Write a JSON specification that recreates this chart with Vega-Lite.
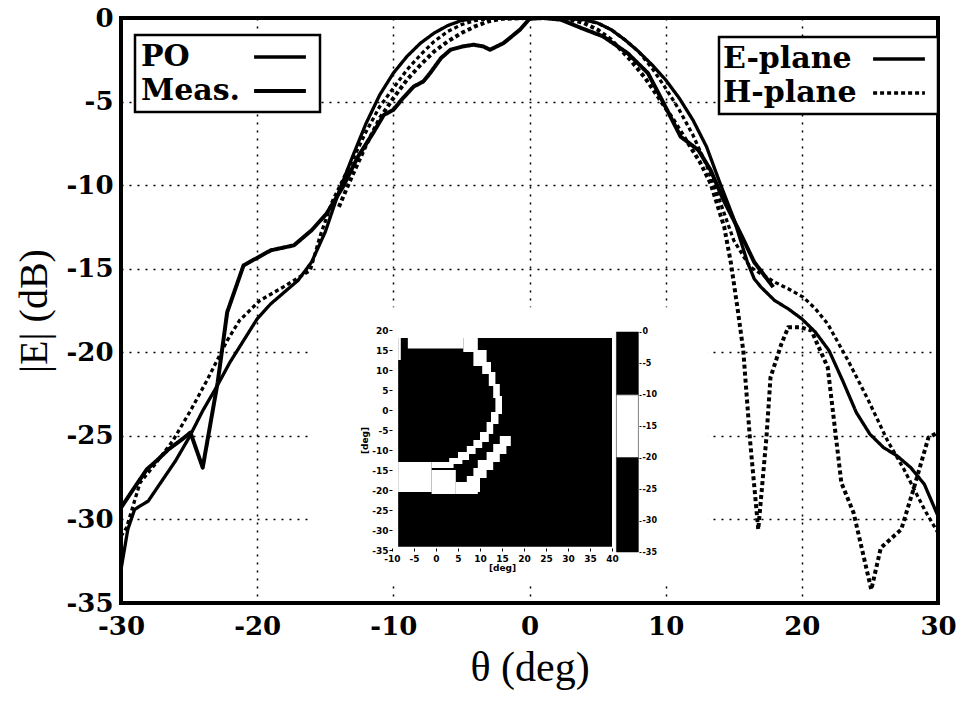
{
  "$schema": "https://vega.github.io/schema/vega-lite/v6.json",
  "width": 817,
  "height": 585,
  "autosize": {"type": "none"},
  "padding": {"left": 121, "top": 18, "right": 31, "bottom": 102},
  "background": "white",
  "config": {
    "view": {"stroke": "black", "strokeWidth": 4},
    "axis": {"grid": false, "labelColor": "black", "titleColor": "black", "tickColor": "black", "domainColor": "black", "labelExpr": "'' + datum.value"},
    "legend": {"strokeWidth": 2.5}
  },
  "datasets": {
    "bg": [{"x1": -15.9, "x2": 13.1, "y1": -17.3, "y2": -33.8}],
    "curves": [
      {"t": -30, "d": -33.0, "s": "PO", "p": "E-plane"},
      {"t": -29.5, "d": -30.6, "s": "PO", "p": "E-plane"},
      {"t": -29, "d": -29.4, "s": "PO", "p": "E-plane"},
      {"t": -28, "d": -28.9, "s": "PO", "p": "E-plane"},
      {"t": -27, "d": -27.7, "s": "PO", "p": "E-plane"},
      {"t": -26, "d": -26.5, "s": "PO", "p": "E-plane"},
      {"t": -25, "d": -25.1, "s": "PO", "p": "E-plane"},
      {"t": -24, "d": -23.5, "s": "PO", "p": "E-plane"},
      {"t": -23, "d": -22.1, "s": "PO", "p": "E-plane"},
      {"t": -22, "d": -20.6, "s": "PO", "p": "E-plane"},
      {"t": -21, "d": -19.3, "s": "PO", "p": "E-plane"},
      {"t": -20, "d": -18.0, "s": "PO", "p": "E-plane"},
      {"t": -19, "d": -17.1, "s": "PO", "p": "E-plane"},
      {"t": -18, "d": -16.4, "s": "PO", "p": "E-plane"},
      {"t": -17, "d": -15.7, "s": "PO", "p": "E-plane"},
      {"t": -16, "d": -14.6, "s": "PO", "p": "E-plane"},
      {"t": -15, "d": -12.8, "s": "PO", "p": "E-plane"},
      {"t": -14, "d": -10.4, "s": "PO", "p": "E-plane"},
      {"t": -13, "d": -8.3, "s": "PO", "p": "E-plane"},
      {"t": -12, "d": -6.3, "s": "PO", "p": "E-plane"},
      {"t": -11, "d": -4.6, "s": "PO", "p": "E-plane"},
      {"t": -10, "d": -3.3, "s": "PO", "p": "E-plane"},
      {"t": -9, "d": -2.3, "s": "PO", "p": "E-plane"},
      {"t": -8, "d": -1.5, "s": "PO", "p": "E-plane"},
      {"t": -7, "d": -0.9, "s": "PO", "p": "E-plane"},
      {"t": -6, "d": -0.45, "s": "PO", "p": "E-plane"},
      {"t": -5, "d": -0.15, "s": "PO", "p": "E-plane"},
      {"t": -4, "d": -0.03, "s": "PO", "p": "E-plane"},
      {"t": -2, "d": 0, "s": "PO", "p": "E-plane"},
      {"t": 0, "d": 0, "s": "PO", "p": "E-plane"},
      {"t": 2, "d": 0, "s": "PO", "p": "E-plane"},
      {"t": 4, "d": -0.1, "s": "PO", "p": "E-plane"},
      {"t": 5, "d": -0.3, "s": "PO", "p": "E-plane"},
      {"t": 6, "d": -0.7, "s": "PO", "p": "E-plane"},
      {"t": 7, "d": -1.3, "s": "PO", "p": "E-plane"},
      {"t": 8, "d": -2.0, "s": "PO", "p": "E-plane"},
      {"t": 9, "d": -2.8, "s": "PO", "p": "E-plane"},
      {"t": 10, "d": -3.7, "s": "PO", "p": "E-plane"},
      {"t": 11, "d": -4.8, "s": "PO", "p": "E-plane"},
      {"t": 12, "d": -6.1, "s": "PO", "p": "E-plane"},
      {"t": 13, "d": -7.7, "s": "PO", "p": "E-plane"},
      {"t": 14, "d": -9.9, "s": "PO", "p": "E-plane"},
      {"t": 15, "d": -12.0, "s": "PO", "p": "E-plane"},
      {"t": 16, "d": -14.6, "s": "PO", "p": "E-plane"},
      {"t": 16.5, "d": -15.6, "s": "PO", "p": "E-plane"},
      {"t": 17, "d": -16.1, "s": "PO", "p": "E-plane"},
      {"t": 18, "d": -16.9, "s": "PO", "p": "E-plane"},
      {"t": 19, "d": -17.4, "s": "PO", "p": "E-plane"},
      {"t": 20, "d": -18.0, "s": "PO", "p": "E-plane"},
      {"t": 21, "d": -18.8, "s": "PO", "p": "E-plane"},
      {"t": 22, "d": -19.9, "s": "PO", "p": "E-plane"},
      {"t": 23, "d": -21.7, "s": "PO", "p": "E-plane"},
      {"t": 24, "d": -23.6, "s": "PO", "p": "E-plane"},
      {"t": 25, "d": -24.9, "s": "PO", "p": "E-plane"},
      {"t": 26, "d": -25.7, "s": "PO", "p": "E-plane"},
      {"t": 27, "d": -26.2, "s": "PO", "p": "E-plane"},
      {"t": 28, "d": -26.9, "s": "PO", "p": "E-plane"},
      {"t": 29, "d": -27.9, "s": "PO", "p": "E-plane"},
      {"t": 30, "d": -29.8, "s": "PO", "p": "E-plane"},

      {"t": -30, "d": -29.3, "s": "Meas.", "p": "E-plane"},
      {"t": -29.1, "d": -28.2, "s": "Meas.", "p": "E-plane"},
      {"t": -28.1, "d": -27.0, "s": "Meas.", "p": "E-plane"},
      {"t": -27.4, "d": -26.5, "s": "Meas.", "p": "E-plane"},
      {"t": -26.5, "d": -25.8, "s": "Meas.", "p": "E-plane"},
      {"t": -25.5, "d": -25.2, "s": "Meas.", "p": "E-plane"},
      {"t": -24.9, "d": -24.8, "s": "Meas.", "p": "E-plane"},
      {"t": -24.0, "d": -26.9, "s": "Meas.", "p": "E-plane"},
      {"t": -22.9, "d": -21.8, "s": "Meas.", "p": "E-plane"},
      {"t": -22.2, "d": -17.6, "s": "Meas.", "p": "E-plane"},
      {"t": -21.0, "d": -14.8, "s": "Meas.", "p": "E-plane"},
      {"t": -19.0, "d": -13.9, "s": "Meas.", "p": "E-plane"},
      {"t": -17.3, "d": -13.6, "s": "Meas.", "p": "E-plane"},
      {"t": -16.0, "d": -12.7, "s": "Meas.", "p": "E-plane"},
      {"t": -14.9, "d": -11.7, "s": "Meas.", "p": "E-plane"},
      {"t": -13.7, "d": -10.1, "s": "Meas.", "p": "E-plane"},
      {"t": -12.6, "d": -8.3, "s": "Meas.", "p": "E-plane"},
      {"t": -11.5, "d": -6.9, "s": "Meas.", "p": "E-plane"},
      {"t": -10.7, "d": -5.8, "s": "Meas.", "p": "E-plane"},
      {"t": -10.0, "d": -5.5, "s": "Meas.", "p": "E-plane"},
      {"t": -9.3, "d": -4.8, "s": "Meas.", "p": "E-plane"},
      {"t": -8.5, "d": -4.1, "s": "Meas.", "p": "E-plane"},
      {"t": -7.8, "d": -3.8, "s": "Meas.", "p": "E-plane"},
      {"t": -7.3, "d": -3.3, "s": "Meas.", "p": "E-plane"},
      {"t": -6.5, "d": -2.4, "s": "Meas.", "p": "E-plane"},
      {"t": -5.8, "d": -1.9, "s": "Meas.", "p": "E-plane"},
      {"t": -4.9, "d": -1.7, "s": "Meas.", "p": "E-plane"},
      {"t": -4.1, "d": -1.6, "s": "Meas.", "p": "E-plane"},
      {"t": -3.4, "d": -1.7, "s": "Meas.", "p": "E-plane"},
      {"t": -2.9, "d": -1.9, "s": "Meas.", "p": "E-plane"},
      {"t": -1.9, "d": -1.5, "s": "Meas.", "p": "E-plane"},
      {"t": -0.7, "d": -0.7, "s": "Meas.", "p": "E-plane"},
      {"t": 0, "d": -0.05, "s": "Meas.", "p": "E-plane"},
      {"t": 1, "d": 0, "s": "Meas.", "p": "E-plane"},
      {"t": 2.3, "d": -0.1, "s": "Meas.", "p": "E-plane"},
      {"t": 3.8, "d": -0.6, "s": "Meas.", "p": "E-plane"},
      {"t": 5.4, "d": -1.1, "s": "Meas.", "p": "E-plane"},
      {"t": 7.2, "d": -2.1, "s": "Meas.", "p": "E-plane"},
      {"t": 8.7, "d": -3.3, "s": "Meas.", "p": "E-plane"},
      {"t": 9.6, "d": -4.7, "s": "Meas.", "p": "E-plane"},
      {"t": 10.1, "d": -5.5, "s": "Meas.", "p": "E-plane"},
      {"t": 11.1, "d": -7.1, "s": "Meas.", "p": "E-plane"},
      {"t": 12.4, "d": -7.9, "s": "Meas.", "p": "E-plane"},
      {"t": 13.3, "d": -9.1, "s": "Meas.", "p": "E-plane"},
      {"t": 14.2, "d": -10.8, "s": "Meas.", "p": "E-plane"},
      {"t": 15.5, "d": -12.9, "s": "Meas.", "p": "E-plane"},
      {"t": 16.5, "d": -14.6, "s": "Meas.", "p": "E-plane"},
      {"t": 17.9, "d": -16.1, "s": "Meas.", "p": "E-plane"},

      {"t": -30, "d": -31.0, "s": "PO", "p": "H-plane"},
      {"t": -29.6, "d": -30.5, "s": "PO", "p": "H-plane"},
      {"t": -28.6, "d": -27.8, "s": "PO", "p": "H-plane"},
      {"t": -27.4, "d": -26.6, "s": "PO", "p": "H-plane"},
      {"t": -26.2, "d": -25.3, "s": "PO", "p": "H-plane"},
      {"t": -24.9, "d": -23.5, "s": "PO", "p": "H-plane"},
      {"t": -23.7, "d": -21.7, "s": "PO", "p": "H-plane"},
      {"t": -22.2, "d": -19.3, "s": "PO", "p": "H-plane"},
      {"t": -21.3, "d": -18.1, "s": "PO", "p": "H-plane"},
      {"t": -19.8, "d": -16.9, "s": "PO", "p": "H-plane"},
      {"t": -18.1, "d": -16.1, "s": "PO", "p": "H-plane"},
      {"t": -16.1, "d": -15.1, "s": "PO", "p": "H-plane"},
      {"t": -15.4, "d": -13.1, "s": "PO", "p": "H-plane"},
      {"t": -14.5, "d": -11.0, "s": "PO", "p": "H-plane"},
      {"t": -13.9, "d": -10.0, "s": "PO", "p": "H-plane"},
      {"t": -13, "d": -8.5, "s": "PO", "p": "H-plane"},
      {"t": -12, "d": -6.8, "s": "PO", "p": "H-plane"},
      {"t": -11, "d": -5.3, "s": "PO", "p": "H-plane"},
      {"t": -10, "d": -4.2, "s": "PO", "p": "H-plane"},
      {"t": -9, "d": -3.1, "s": "PO", "p": "H-plane"},
      {"t": -8, "d": -2.2, "s": "PO", "p": "H-plane"},
      {"t": -7, "d": -1.4, "s": "PO", "p": "H-plane"},
      {"t": -6, "d": -0.8, "s": "PO", "p": "H-plane"},
      {"t": -5, "d": -0.4, "s": "PO", "p": "H-plane"},
      {"t": -4, "d": -0.15, "s": "PO", "p": "H-plane"},
      {"t": -3, "d": -0.03, "s": "PO", "p": "H-plane"},
      {"t": -2, "d": 0, "s": "PO", "p": "H-plane"},
      {"t": 0, "d": 0, "s": "PO", "p": "H-plane"},
      {"t": 2, "d": 0, "s": "PO", "p": "H-plane"},
      {"t": 4, "d": -0.1, "s": "PO", "p": "H-plane"},
      {"t": 5, "d": -0.3, "s": "PO", "p": "H-plane"},
      {"t": 6, "d": -0.7, "s": "PO", "p": "H-plane"},
      {"t": 7, "d": -1.3, "s": "PO", "p": "H-plane"},
      {"t": 8, "d": -2.0, "s": "PO", "p": "H-plane"},
      {"t": 9, "d": -3.0, "s": "PO", "p": "H-plane"},
      {"t": 10, "d": -4.2, "s": "PO", "p": "H-plane"},
      {"t": 11, "d": -5.5, "s": "PO", "p": "H-plane"},
      {"t": 12, "d": -7.0, "s": "PO", "p": "H-plane"},
      {"t": 13, "d": -8.8, "s": "PO", "p": "H-plane"},
      {"t": 14, "d": -11.0, "s": "PO", "p": "H-plane"},
      {"t": 15, "d": -13.3, "s": "PO", "p": "H-plane"},
      {"t": 16.2, "d": -14.9, "s": "PO", "p": "H-plane"},
      {"t": 17, "d": -15.3, "s": "PO", "p": "H-plane"},
      {"t": 18, "d": -15.8, "s": "PO", "p": "H-plane"},
      {"t": 19, "d": -16.2, "s": "PO", "p": "H-plane"},
      {"t": 20.1, "d": -16.7, "s": "PO", "p": "H-plane"},
      {"t": 21, "d": -17.4, "s": "PO", "p": "H-plane"},
      {"t": 21.9, "d": -18.3, "s": "PO", "p": "H-plane"},
      {"t": 23.4, "d": -20.5, "s": "PO", "p": "H-plane"},
      {"t": 24.9, "d": -22.9, "s": "PO", "p": "H-plane"},
      {"t": 26.3, "d": -25.3, "s": "PO", "p": "H-plane"},
      {"t": 27.5, "d": -27.0, "s": "PO", "p": "H-plane"},
      {"t": 29, "d": -29.4, "s": "PO", "p": "H-plane"},
      {"t": 30, "d": -30.8, "s": "PO", "p": "H-plane"},

      {"t": -14, "d": -11.3, "s": "Meas.", "p": "H-plane"},
      {"t": -13, "d": -9.4, "s": "Meas.", "p": "H-plane"},
      {"t": -12, "d": -7.6, "s": "Meas.", "p": "H-plane"},
      {"t": -11, "d": -6.0, "s": "Meas.", "p": "H-plane"},
      {"t": -10, "d": -4.8, "s": "Meas.", "p": "H-plane"},
      {"t": -9, "d": -3.7, "s": "Meas.", "p": "H-plane"},
      {"t": -8, "d": -2.8, "s": "Meas.", "p": "H-plane"},
      {"t": -7, "d": -2.0, "s": "Meas.", "p": "H-plane"},
      {"t": -6, "d": -1.4, "s": "Meas.", "p": "H-plane"},
      {"t": -5, "d": -0.9, "s": "Meas.", "p": "H-plane"},
      {"t": -4, "d": -0.5, "s": "Meas.", "p": "H-plane"},
      {"t": -3, "d": -0.2, "s": "Meas.", "p": "H-plane"},
      {"t": -2, "d": -0.05, "s": "Meas.", "p": "H-plane"},
      {"t": 0, "d": 0, "s": "Meas.", "p": "H-plane"},
      {"t": 2, "d": 0, "s": "Meas.", "p": "H-plane"},
      {"t": 3, "d": -0.1, "s": "Meas.", "p": "H-plane"},
      {"t": 4, "d": -0.3, "s": "Meas.", "p": "H-plane"},
      {"t": 5, "d": -0.7, "s": "Meas.", "p": "H-plane"},
      {"t": 6, "d": -1.3, "s": "Meas.", "p": "H-plane"},
      {"t": 7.4, "d": -2.5, "s": "Meas.", "p": "H-plane"},
      {"t": 8.5, "d": -3.6, "s": "Meas.", "p": "H-plane"},
      {"t": 9.5, "d": -4.8, "s": "Meas.", "p": "H-plane"},
      {"t": 10.5, "d": -6.0, "s": "Meas.", "p": "H-plane"},
      {"t": 11.5, "d": -7.3, "s": "Meas.", "p": "H-plane"},
      {"t": 12.5, "d": -8.6, "s": "Meas.", "p": "H-plane"},
      {"t": 13.3, "d": -9.9, "s": "Meas.", "p": "H-plane"},
      {"t": 14.3, "d": -12.5, "s": "Meas.", "p": "H-plane"},
      {"t": 14.8, "d": -14.7, "s": "Meas.", "p": "H-plane"},
      {"t": 15.3, "d": -17.5, "s": "Meas.", "p": "H-plane"},
      {"t": 15.7, "d": -19.9, "s": "Meas.", "p": "H-plane"},
      {"t": 16.2, "d": -25.3, "s": "Meas.", "p": "H-plane"},
      {"t": 16.8, "d": -30.6, "s": "Meas.", "p": "H-plane"},
      {"t": 17.4, "d": -25.1, "s": "Meas.", "p": "H-plane"},
      {"t": 17.7, "d": -21.5, "s": "Meas.", "p": "H-plane"},
      {"t": 18.5, "d": -19.5, "s": "Meas.", "p": "H-plane"},
      {"t": 19.0, "d": -18.5, "s": "Meas.", "p": "H-plane"},
      {"t": 19.9, "d": -18.5, "s": "Meas.", "p": "H-plane"},
      {"t": 20.7, "d": -18.7, "s": "Meas.", "p": "H-plane"},
      {"t": 21.9, "d": -20.9, "s": "Meas.", "p": "H-plane"},
      {"t": 22.9, "d": -27.8, "s": "Meas.", "p": "H-plane"},
      {"t": 23.8, "d": -29.6, "s": "Meas.", "p": "H-plane"},
      {"t": 25.1, "d": -34.2, "s": "Meas.", "p": "H-plane"},
      {"t": 25.8, "d": -31.7, "s": "Meas.", "p": "H-plane"},
      {"t": 27.3, "d": -30.6, "s": "Meas.", "p": "H-plane"},
      {"t": 28.2, "d": -28.2, "s": "Meas.", "p": "H-plane"},
      {"t": 29.3, "d": -25.1, "s": "Meas.", "p": "H-plane"},
      {"t": 30, "d": -24.8, "s": "Meas.", "p": "H-plane"}
    ],
    "heat": [
      {"x1": -8.6, "x2": 40, "y1": -34.2, "y2": 18, "lv": "low"},
      {"x1": -8.6, "x2": -8.0, "y1": 12.5, "y2": 18, "lv": "band"},
      {"x1": -6.4, "x2": 6.2, "y1": 15.4, "y2": 18, "lv": "band"},
      {"x1": 6.2, "x2": 9.5, "y1": 14.5, "y2": 18, "lv": "band"},
      {"x1": 8.5, "x2": 11.5, "y1": 11, "y2": 15, "lv": "band"},
      {"x1": 10.5, "x2": 12.5, "y1": 9, "y2": 12, "lv": "band"},
      {"x1": 12, "x2": 13.5, "y1": 6, "y2": 9.5, "lv": "band"},
      {"x1": 13, "x2": 14.5, "y1": 3, "y2": 6.5, "lv": "band"},
      {"x1": 13.5, "x2": 15, "y1": -1, "y2": 3.5, "lv": "band"},
      {"x1": 12.5, "x2": 14.2, "y1": -3.5, "y2": -0.5, "lv": "band"},
      {"x1": 11.5, "x2": 13, "y1": -6, "y2": -3, "lv": "band"},
      {"x1": 10, "x2": 12, "y1": -8, "y2": -5.5, "lv": "band"},
      {"x1": 8.5, "x2": 10.5, "y1": -9.5, "y2": -7.5, "lv": "band"},
      {"x1": 7, "x2": 9, "y1": -11, "y2": -9, "lv": "band"},
      {"x1": 5, "x2": 7.5, "y1": -12.5, "y2": -10.5, "lv": "band"},
      {"x1": 3, "x2": 6, "y1": -13.5, "y2": -12, "lv": "band"},
      {"x1": -1, "x2": 4, "y1": -14.5, "y2": -13, "lv": "band"},
      {"x1": -8.6, "x2": -1, "y1": -20.5, "y2": -13, "lv": "band"},
      {"x1": -1, "x2": 4.5, "y1": -21, "y2": -15, "lv": "band"},
      {"x1": 4.5, "x2": 9.5, "y1": -21, "y2": -18, "lv": "band"},
      {"x1": 14.5, "x2": 17, "y1": -9, "y2": -6.5, "lv": "band"},
      {"x1": 13, "x2": 16, "y1": -11, "y2": -8.5, "lv": "band"},
      {"x1": 11.5, "x2": 14.5, "y1": -13, "y2": -10.5, "lv": "band"},
      {"x1": 9.5, "x2": 13, "y1": -15, "y2": -12.5, "lv": "band"},
      {"x1": 8.5, "x2": 11.5, "y1": -17, "y2": -14.5, "lv": "band"},
      {"x1": 7, "x2": 10, "y1": -20.5, "y2": -16.5, "lv": "band"}
    ],
    "cbar": [
      {"top": 0, "bottom": -10, "lv": "high"},
      {"top": -10, "bottom": -20, "lv": "band"},
      {"top": -20, "bottom": -35, "lv": "low"}
    ]
  },
  "layer": [
    {
      "layer": [
        {
          "data": {"name": "bg"},
          "mark": {"type": "rect", "fill": "white"},
          "encoding": {
            "x": {"field": "x1", "type": "quantitative", "scale": {"domain": [-30, 30], "nice": false, "zero": false},
              "axis": {"title": "θ (deg)", "values": [-30, -20, -10, 0, 10, 20, 30], "grid": true, "gridColor": "black", "gridDash": [2, 6], "gridWidth": 1.5, "gridOpacity": 1, "ticks": false, "domain": false, "labelFont": "DejaVu Serif", "labelFontWeight": "bold", "labelFontSize": 26, "labelPadding": 10, "labelFlush": false, "titleFont": "Liberation Serif", "titleFontWeight": "normal", "titleFontSize": 42, "titlePadding": 8, "zindex": 0}},
            "x2": {"field": "x2"},
            "y": {"field": "y1", "type": "quantitative", "scale": {"domain": [-35, 0], "nice": false, "zero": false},
              "axis": {"title": "|E| (dB)", "values": [0, -5, -10, -15, -20, -25, -30, -35], "grid": true, "gridColor": "black", "gridDash": [2, 6], "gridWidth": 1.5, "gridOpacity": 1, "ticks": false, "domain": false, "labelFont": "DejaVu Serif", "labelFontWeight": "bold", "labelFontSize": 26, "labelPadding": 8, "labelFlush": false, "titleFont": "Liberation Serif", "titleFontWeight": "normal", "titleFontSize": 40, "titlePadding": 12, "zindex": 0}},
            "y2": {"field": "y2"}
          }
        },
        {
          "data": {"name": "curves"},
          "mark": {"type": "line", "color": "black", "strokeJoin": "round"},
          "encoding": {
            "x": {"field": "t", "type": "quantitative", "scale": {"domain": [-30, 30], "nice": false, "zero": false}, "axis": {"title": "θ (deg)", "values": [-30, -20, -10, 0, 10, 20, 30], "grid": true, "gridColor": "black", "gridDash": [2, 6], "gridWidth": 1.5, "gridOpacity": 1, "ticks": false, "domain": false, "labelFont": "DejaVu Serif", "labelFontWeight": "bold", "labelFontSize": 26, "labelPadding": 10, "labelFlush": false, "titleFont": "Liberation Serif", "titleFontWeight": "normal", "titleFontSize": 42, "titlePadding": 8, "zindex": 0}},
            "y": {"field": "d", "type": "quantitative", "scale": {"domain": [-35, 0], "nice": false, "zero": false}, "axis": {"title": "|E| (dB)", "values": [0, -5, -10, -15, -20, -25, -30, -35], "grid": true, "gridColor": "black", "gridDash": [2, 6], "gridWidth": 1.5, "gridOpacity": 1, "ticks": false, "domain": false, "labelFont": "DejaVu Serif", "labelFontWeight": "bold", "labelFontSize": 26, "labelPadding": 8, "labelFlush": false, "titleFont": "Liberation Serif", "titleFontWeight": "normal", "titleFontSize": 40, "titlePadding": 12, "zindex": 0}},
            "strokeWidth": {"field": "s", "type": "nominal", "scale": {"domain": ["PO", "Meas."], "range": [3.3, 4]},
              "legend": {"title": null, "orient": "none", "legendX": 14, "legendY": 17, "padding": 6, "rowPadding": 3, "strokeColor": "black", "fillColor": "white", "symbolType": "M-1.85,0H1.85", "symbolSize": 784, "symbolStrokeColor": "black", "symbolFillColor": "transparent", "symbolOffset": 123, "labelOffset": -155, "labelFont": "DejaVu Serif", "labelFontWeight": "bold", "labelFontSize": 30, "labelColor": "black", "labelLimit": 400}},
            "strokeDash": {"field": "p", "type": "nominal", "scale": {"domain": ["E-plane", "H-plane"], "range": [[1, 0], [4, 3]]},
              "legend": {"title": null, "orient": "none", "legendX": 598, "legendY": 19, "padding": 6, "rowPadding": 3, "strokeColor": "black", "fillColor": "white", "symbolType": "M-1.85,0H1.85", "symbolSize": 784, "symbolStrokeColor": "black", "symbolFillColor": "transparent", "symbolStrokeWidth": 3.5, "symbolOffset": 158, "labelOffset": -192, "labelFont": "DejaVu Serif", "labelFontWeight": "bold", "labelFontSize": 30, "labelColor": "black", "labelLimit": 400}}
          }
        }
      ]
    },
    {
      "layer": [
        {
          "data": {"name": "heat"},
          "mark": {"type": "rect"},
          "encoding": {
            "x": {"field": "x1", "type": "quantitative", "scale": {"domain": [-71.59, 114.09], "nice": false, "zero": false},
              "axis": {"orient": "bottom", "offset": -55, "values": [-10, -5, 0, 5, 10, 15, 20, 25, 30, 35, 40], "domain": false, "ticks": true, "tickSize": 3, "labelFont": "DejaVu Sans", "labelFontWeight": "bold", "labelFontSize": 9, "labelPadding": 3, "title": "[deg]", "titleFont": "DejaVu Sans", "titleFontWeight": "bold", "titleFontSize": 9, "titlePadding": 0, "titleX": 381, "grid": false, "zindex": 1}},
            "x2": {"field": "x2"},
            "y": {"field": "y1", "type": "quantitative", "scale": {"domain": [-48.25, 98], "nice": false, "zero": false},
              "axis": {"orient": "left", "offset": -271, "values": [20, 15, 10, 5, 0, -5, -10, -15, -20, -25, -30, -35], "domain": false, "ticks": true, "tickSize": 3, "labelFont": "DejaVu Sans", "labelFontWeight": "bold", "labelFontSize": 9, "labelPadding": 1, "title": "[deg]", "titleFont": "DejaVu Sans", "titleFontWeight": "bold", "titleFontSize": 9, "titlePadding": 2, "titleY": 422, "grid": false, "zindex": 1}},
            "y2": {"field": "y2"},
            "fill": {"field": "lv", "type": "nominal", "scale": {"domain": ["high", "band", "low"], "range": ["black", "white", "black"]}, "legend": null}
          }
        },
        {
          "mark": {"type": "rule", "color": "black", "strokeWidth": 1},
          "encoding": {"x": {"datum": -10, "type": "quantitative"}, "y": {"datum": -35, "type": "quantitative"}, "y2": {"datum": 20}}
        },
        {
          "mark": {"type": "rule", "color": "black", "strokeWidth": 1},
          "encoding": {"x": {"datum": -10, "type": "quantitative"}, "x2": {"datum": 40}, "y": {"datum": -35, "type": "quantitative"}}
        }
      ]
    },
    {
      "data": {"name": "cbar"},
      "mark": {"type": "rect", "stroke": "black", "strokeWidth": 0.5},
      "encoding": {
        "x": {"datum": 41, "type": "quantitative", "scale": {"domain": [-71.59, 114.09], "nice": false, "zero": false}, "axis": null},
        "x2": {"datum": 46},
        "y": {"field": "top", "type": "quantitative", "scale": {"domain": [-43.11, 49.95], "nice": false, "zero": false},
          "axis": {"orient": "right", "offset": -299, "values": [0, -5, -10, -15, -20, -25, -30, -35], "domain": false, "ticks": true, "tickSize": 2, "labelFont": "DejaVu Sans", "labelFontWeight": "bold", "labelFontSize": 8, "labelPadding": 1, "title": null, "grid": false, "zindex": 1}},
        "y2": {"field": "bottom"},
        "fill": {"field": "lv", "type": "nominal", "scale": {"domain": ["high", "band", "low"], "range": ["black", "white", "black"]}, "legend": null}
      }
    }
  ],
  "resolve": {"scale": {"x": "independent", "y": "independent"}, "axis": {"x": "independent", "y": "independent"}}
}
